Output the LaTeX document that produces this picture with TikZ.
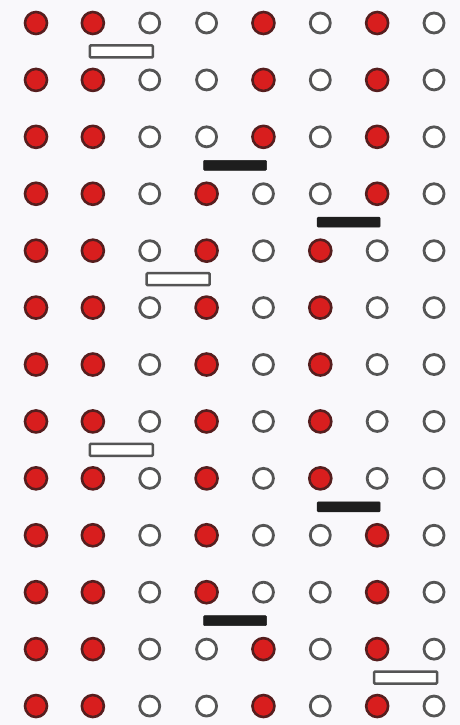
\documentclass[tikz,border=0pt]{standalone}
\definecolor{bg}{RGB}{249,248,251}
\definecolor{redfill}{RGB}{216,30,30}
\definecolor{redrim}{RGB}{85,30,30}
\definecolor{ringgray}{RGB}{85,85,85}
\definecolor{barblack}{RGB}{30,30,30}
\tikzset{
  redball/.style={circle,minimum size=22pt,inner sep=0pt,fill=redfill,draw=redrim,line width=2.6pt},
  openball/.style={circle,minimum size=20pt,inner sep=0pt,fill=white,draw=ringgray,line width=2.8pt},
  openbar/.style={rectangle,minimum width=63pt,minimum height=12pt,inner sep=0pt,fill=white,draw=ringgray,line width=2.5pt,rounded corners=1pt},
  blackbar/.style={rectangle,minimum width=63pt,minimum height=10pt,inner sep=0pt,fill=barblack,draw=barblack,line width=0.5pt,rounded corners=1pt}
}
\begin{document}
\begin{tikzpicture}[x=1pt,y=-1pt]
\fill[bg] (0,0) rectangle (460,725);
\useasboundingbox (0,0) rectangle (460,725);
\def\colx#1{36+56.86*(#1-1)}
\def\rowy#1{23+56.92*(#1-1)}
\foreach \r/\pattern in {
  1/{1,1,0,0,1,0,1,0},
  2/{1,1,0,0,1,0,1,0},
  3/{1,1,0,0,1,0,1,0},
  4/{1,1,0,1,0,0,1,0},
  5/{1,1,0,1,0,1,0,0},
  6/{1,1,0,1,0,1,0,0},
  7/{1,1,0,1,0,1,0,0},
  8/{1,1,0,1,0,1,0,0},
  9/{1,1,0,1,0,1,0,0},
  10/{1,1,0,1,0,0,1,0},
  11/{1,1,0,1,0,0,1,0},
  12/{1,1,0,0,1,0,1,0},
  13/{1,1,0,0,1,0,1,0}}{
  \foreach \v [count=\c] in \pattern {
    \ifnum\v=1
      \node[redball] (c-\r-\c) at ({\colx{\c}},{\rowy{\r}}) {};
    \else
      \node[openball] (c-\r-\c) at ({\colx{\c}},{\rowy{\r}}) {};
    \fi
  }
}
% bars between rows, centred between columns
\node[openbar]  (b1) at ({\colx{2.5}},{\rowy{1.5}}) {};
\node[blackbar] (b2) at ({\colx{4.5}},{\rowy{3.5}}) {};
\node[blackbar] (b3) at ({\colx{6.5}},{\rowy{4.5}}) {};
\node[openbar]  (b4) at ({\colx{3.5}},{\rowy{5.5}}) {};
\node[openbar]  (b5) at ({\colx{2.5}},{\rowy{8.5}}) {};
\node[blackbar] (b6) at ({\colx{6.5}},{\rowy{9.5}}) {};
\node[blackbar] (b7) at ({\colx{4.5}},{\rowy{11.5}}) {};
\node[openbar]  (b8) at ({\colx{7.5}},{\rowy{12.5}}) {};
\end{tikzpicture}
\end{document}
